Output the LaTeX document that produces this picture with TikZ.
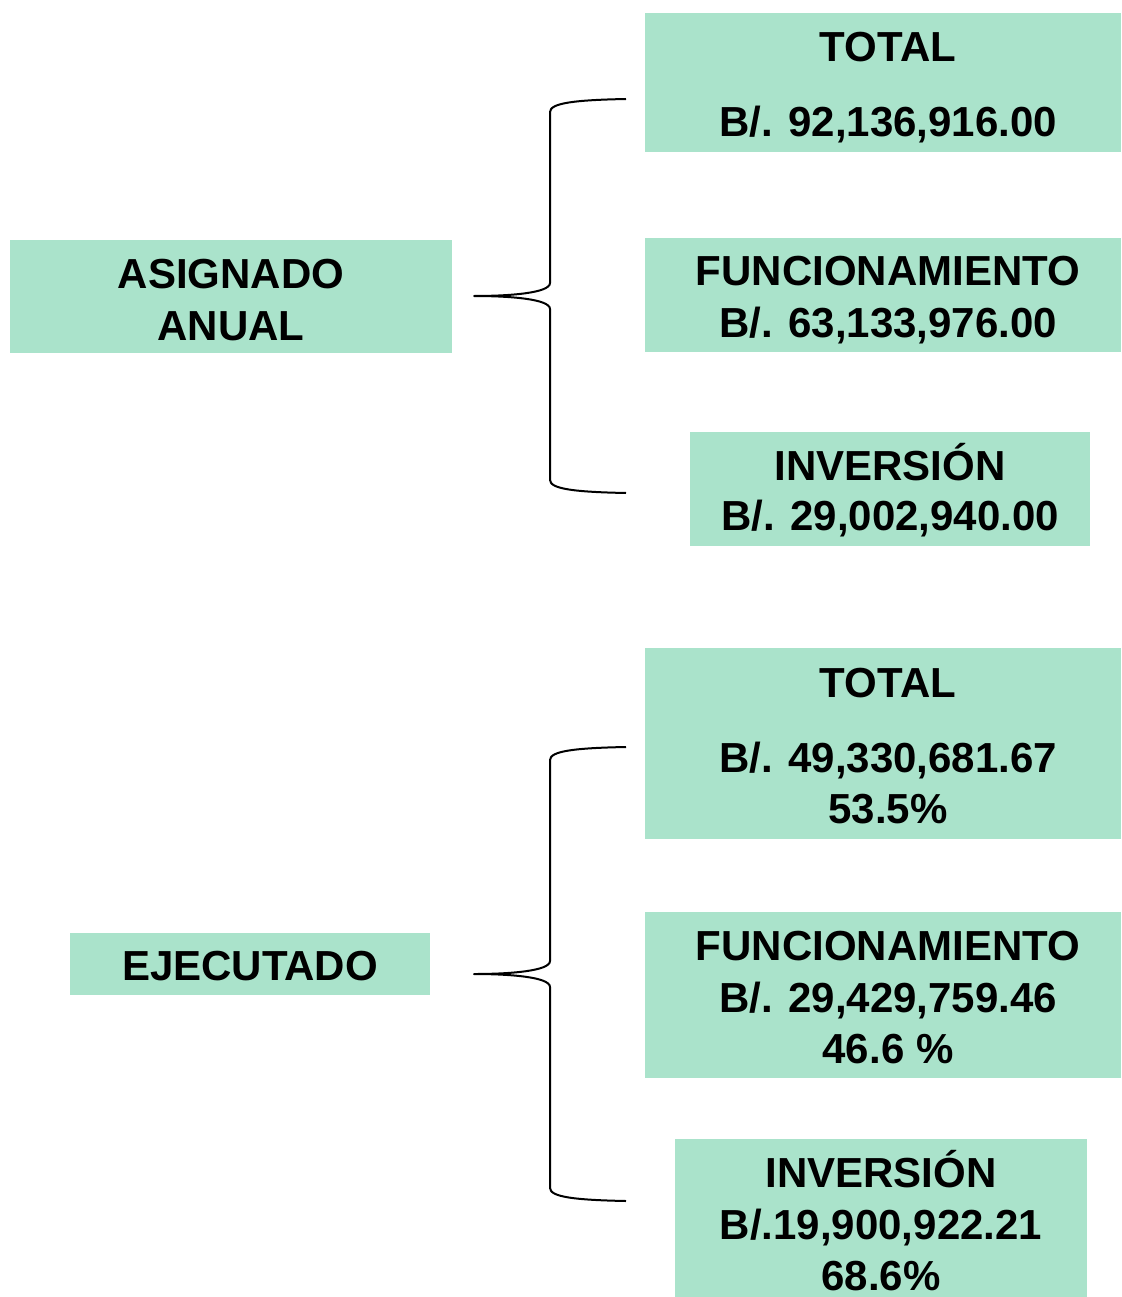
\documentclass[tikz,border=0pt]{standalone}
\usepackage{fontspec}
\setmainfont{Liberation Sans}
\definecolor{mint}{RGB}{170,227,203}
\begin{document}
\begin{tikzpicture}[x=1pt,y=-1pt,
  box/.style={fill=mint,draw=none,inner sep=0pt},
  txt/.style={font=\fontsize{42}{52}\selectfont\bfseries,inner sep=0pt,anchor=base},
  brace/.style={draw=black,line width=2pt,line join=round}]
\useasboundingbox (0,0) rectangle (1121,1297);
% boxes
\path[box] (645,13) rectangle (1121,152);
\path[box] (645,238) rectangle (1121,352);
\path[box] (690,432) rectangle (1090,546);
\path[box] (10,240) rectangle (452,353);
\path[box] (645,648) rectangle (1121,839);
\path[box] (645,912) rectangle (1121,1078);
\path[box] (675,1139) rectangle (1087,1310);
\path[box] (70,933) rectangle (430,995);
% texts
\node[txt] (t1a) at (888,62) {TOTAL};
\node[txt] (t1b) at (888,137) {B/. 92,136,916.00};
\node[txt] (f1a) at (888,285) {FUNCIONAMIENTO};
\node[txt] (f1b) at (888,337) {B/. 63,133,976.00};
\node[txt] (i1a) at (890,480) {INVERSIÓN};
\node[txt] (i1b) at (890,530) {B/. 29,002,940.00};
\node[txt] (a1) at (231,288) {ASIGNADO};
\node[txt] (a2) at (231,340) {ANUAL};
\node[txt] (t2a) at (888,697) {TOTAL};
\node[txt] (t2b) at (888,772) {B/. 49,330,681.67};
\node[txt] (t2c) at (888,823) {53.5\%};
\node[txt] (f2a) at (888,960) {FUNCIONAMIENTO};
\node[txt] (f2b) at (888,1012) {B/. 29,429,759.46};
\node[txt] (f2c) at (888,1063) {46.6 \%};
\node[txt] (i2a) at (881,1187) {INVERSIÓN};
\node[txt] (i2b) at (881,1239) {B/.19,900,922.21};
\node[txt] (i2c) at (881,1290) {68.6\%};
\node[txt] (e1) at (250,980) {EJECUTADO};
% braces
\coordinate (b1t) at (626,99);
\coordinate (b1m) at (474,296);
\coordinate (b1b) at (626,493);
\draw[brace] (b1t) .. controls (575,100) and (550,103) .. (550,112)
  -- (550,283) .. controls (550,293) and (510,296) .. (b1m)
  .. controls (510,296) and (550,299) .. (550,309)
  -- (550,480) .. controls (550,489) and (575,492) .. (b1b);
\coordinate (b2t) at (626,747);
\coordinate (b2m) at (474,974);
\coordinate (b2b) at (626,1201);
\draw[brace] (b2t) .. controls (575,748) and (550,751) .. (550,760)
  -- (550,961) .. controls (550,971) and (510,974) .. (b2m)
  .. controls (510,974) and (550,977) .. (550,987)
  -- (550,1188) .. controls (550,1197) and (575,1200) .. (b2b);
\end{tikzpicture}
\end{document}
